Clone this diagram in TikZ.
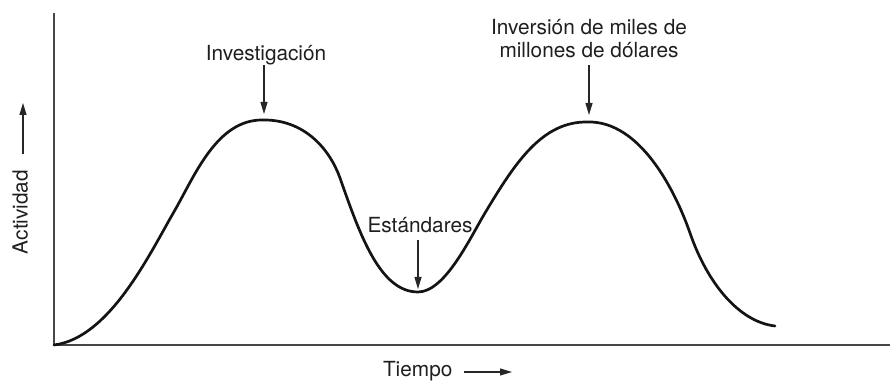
\documentclass[tikz,border=0pt]{standalone}
\usepackage{fontspec}
\setmainfont{TeX Gyre Heros}
\usepackage{tikz}
\usetikzlibrary{positioning, calc, arrows.meta}
\tikzset{axisline/.style={draw=black!72, line width=1pt}}
\tikzset{hype/.style={draw=black!92, line width=1.35pt, line join=round, line cap=round}}
\tikzset{lbl/.style={inner sep=0pt, outer sep=0pt, align=center, text=black!88, font=\fontsize{10.4}{11.6}\selectfont}}
\tikzset{arr/.style={draw=black!85, -{Triangle[length=6pt, width=3.5pt]}, line width=0.55pt}}

\begin{document}
\begin{tikzpicture}[x=0.5pt, y=-0.5pt]
                \useasboundingbox (0,0) rectangle (890,383);
                %
                \coordinate (O) at (54,345);
                \coordinate (ytop) at (54,13);
                \coordinate (xend) at (890,345);
                \draw[axisline] (ytop) -- (O) -- (xend);
                %
                \draw[hype] (O)
                    .. controls (110,338) and (150,253) .. (175,210)
                    .. controls (195,175) and (217,120) .. (262,120)
                    .. controls (305,119) and (330,150) .. (340,178)
                    .. controls (360,235) and (380,292) .. (418,292)
                    .. controls (445,292) and (470,238) .. (485,213)
                    .. controls (515,163) and (542,121) .. (588,122)
                    .. controls (640,121) and (675,190) .. (690,233)
                    .. controls (708,285) and (740,322) .. (775,326);
                %
                \coordinate (peakA) at (264,114);
                \coordinate (dip) at (418,289);
                \coordinate (peakB) at (589,115);
                %
                \node[lbl, anchor=south] (invest) at (266,65) {Investigación};
                \node[lbl, anchor=south] (stds) at (420,233) {Estándares};
                \node[lbl, anchor=south] (money) at (589,58)
                    {Inversión de miles de\\ millones de dólares};
                %
                \draw[arr] (invest.south -| peakA) to (peakA);
                \draw[arr, shorten <=3.5pt] (stds.south -| dip) to (dip);
                \draw[arr, shorten <=3.5pt] (money.south -| peakB) to (peakB);
                %
                \node[lbl, rotate=90, anchor=south] (act) at (28,212) {Actividad};
                \coordinate (acttip) at (23,103);
                \draw[arr, shorten <=8pt] (act.east -| acttip) to (acttip);
                %
                \node[lbl, anchor=base west] (time) at (383,377) {Tiempo};
                \coordinate (timetip) at (512,372);
                \draw[arr, shorten <=6pt] (time.east |- timetip) to (timetip);
                %
            \end{tikzpicture}
\end{document}
